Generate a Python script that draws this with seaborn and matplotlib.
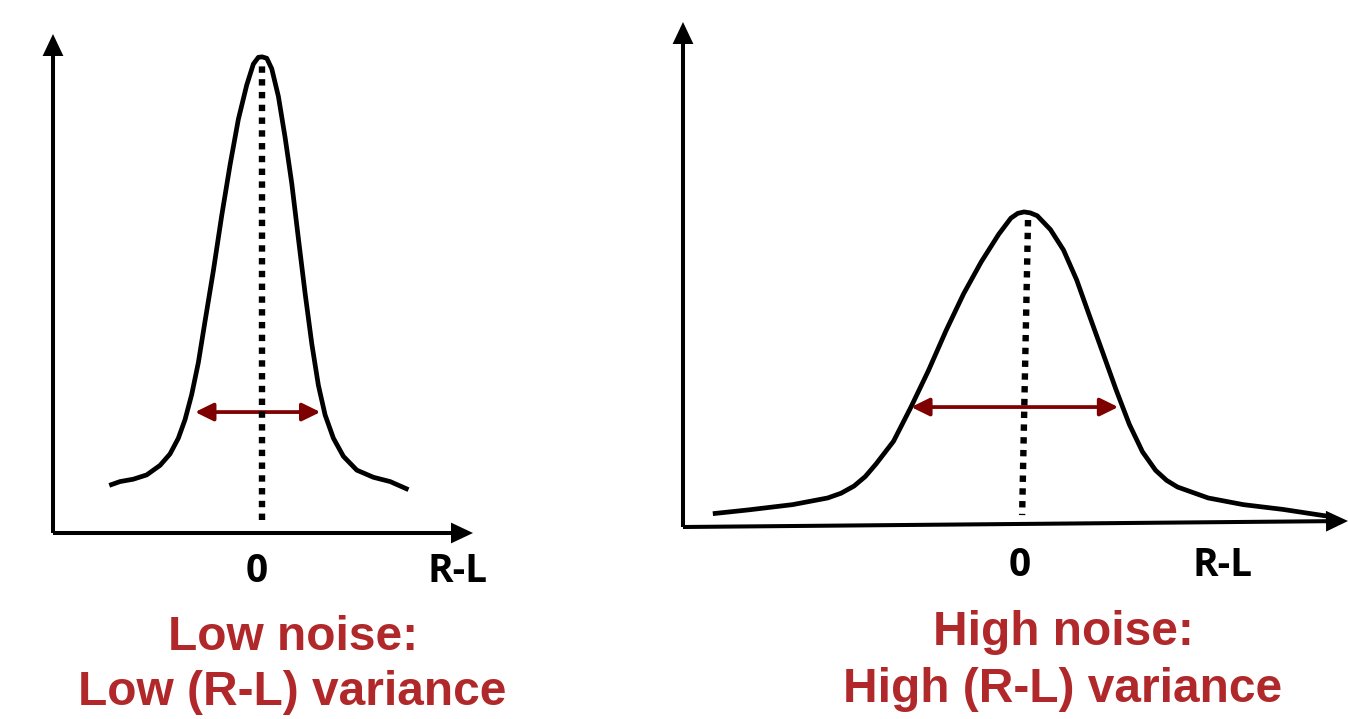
import matplotlib
matplotlib.use("Agg")
import matplotlib.pyplot as plt
import seaborn as sns
import pandas as pd

sns.set_theme(style="white")

# ---------------- data ----------------
# Low-noise panel: narrow distribution of R-L
low_x = [-2.463, -2.290, -2.076, -1.860, -1.645, -1.484, -1.350, -1.242, -1.134,
         -1.027, -0.919, -0.785, -0.650, -0.516, -0.382, -0.247, -0.140, -0.060,
         0.000, 0.076, 0.156, 0.263, 0.371, 0.479, 0.585, 0.694, 0.802, 0.908,
         1.016, 1.150, 1.311, 1.527, 1.795, 2.065, 2.360]
low_y = [0.100, 0.108, 0.113, 0.122, 0.142, 0.166, 0.199, 0.238, 0.291,
         0.358, 0.445, 0.551, 0.667, 0.773, 0.869, 0.941, 0.985, 0.999,
         1.000, 0.997, 0.975, 0.917, 0.831, 0.734, 0.619, 0.503, 0.397, 0.310,
         0.248, 0.199, 0.161, 0.132, 0.117, 0.108, 0.091]

# High-noise panel: wide distribution of R-L
high_x = [-5.019, -4.440, -3.732, -3.166, -2.950, -2.742, -2.560, -2.389, -2.105,
          -1.823, -1.540, -1.256, -0.974, -0.690, -0.408, -0.211, -0.100, 0.000,
          0.100, 0.213, 0.426, 0.637, 0.850, 1.061, 1.274, 1.486, 1.698, 1.911,
          2.123, 2.300, 2.476, 2.971, 3.537, 4.174, 4.882]
high_y = [0.028, 0.036, 0.047, 0.061, 0.071, 0.086, 0.106, 0.132, 0.180,
          0.252, 0.329, 0.413, 0.490, 0.557, 0.615, 0.649, 0.659, 0.662,
          0.660, 0.654, 0.625, 0.582, 0.519, 0.442, 0.365, 0.288, 0.216, 0.158,
          0.119, 0.098, 0.084, 0.061, 0.047, 0.037, 0.023]

# width arrows (R-L span at arrow height)
low_span = [-1.08, 0.94]
low_span_y = 0.254
high_span = [-1.82, 1.52]
high_span_y = 0.252

tick_labels = ["0", "R-L"]
low_tick_pos = [-0.08, 3.15]
high_tick_pos = [-0.065, 3.21]

titles_low = ["Low noise:", "Low (R-L) variance"]
titles_high = ["High noise:", "High (R-L) variance"]

# ---------------- figure ----------------
W, H = 1348, 719
fig = plt.figure(figsize=(W / 100, H / 100), dpi=100)
fig.patch.set_facecolor("white")

ARROW_RED = "#7F0000"
TITLE_RED = "#B0282A"


def make_panel(px_left, px_right, px_top, px_bottom, xlim, ylim):
    ax = fig.add_axes([px_left / W, (H - px_bottom) / H,
                       (px_right - px_left) / W, (px_bottom - px_top) / H])
    ax.set_xlim(*xlim)
    ax.set_ylim(*ylim)
    ax.axis("off")
    return ax


def axis_arrows(ax, x_end_frac=1.0, x_end_y=0.0):
    kw = dict(arrowstyle="-|>,head_length=0.55,head_width=0.26",
              lw=2.9, color="black", shrinkA=0, shrinkB=0,
              mutation_scale=20, joinstyle="miter", capstyle="butt")
    ax.annotate("", xy=(0, 1), xytext=(0, 0), xycoords="axes fraction",
                textcoords="axes fraction", arrowprops=kw,
                annotation_clip=False)
    ax.annotate("", xy=(x_end_frac, x_end_y), xytext=(0, 0),
                xycoords="axes fraction", textcoords="axes fraction",
                arrowprops=kw, annotation_clip=False)


def span_arrow(ax, span, y):
    ax.annotate("", xy=(span[1], y), xytext=(span[0], y),
                arrowprops=dict(arrowstyle="<|-|>,head_length=0.55,head_width=0.27",
                                lw=2.7, color=ARROW_RED, shrinkA=0, shrinkB=0,
                                mutation_scale=20), zorder=3)


def tick_texts(ax, positions, yoff):
    for lab, xp in zip(tick_labels, positions):
        ax.text(xp, yoff, lab, ha="center", va="baseline", fontsize=28,
                fontweight="bold", family=["Open Sans", "DejaVu Sans"],
                color="black", clip_on=False)


# ---- left panel ----
axL = make_panel(53, 473, 34, 533, (-3.37, 3.40), (0, 1.048))
axis_arrows(axL)
dfL = pd.DataFrame({"x": low_x, "y": low_y})
sns.lineplot(data=dfL, x="x", y="y", ax=axL, sort=False, color="black",
             lw=3.4, solid_joinstyle="round", solid_capstyle="butt", zorder=2)
span_arrow(axL, low_span, low_span_y)
axL.plot([0.0, 0.0], [0.027, 0.985], color="black", lw=4.6,
         linestyle=(0, (1, 1)), dash_capstyle="butt", zorder=4)
tick_texts(axL, low_tick_pos, -0.103)

# ---- right panel ----
axR = make_panel(683, 1348, 22, 527, (-5.5, 5.226), (0, 1.061))
axis_arrows(axR, x_end_frac=1.0, x_end_y=6 / 505)
dfH = pd.DataFrame({"x": high_x, "y": high_y})
sns.lineplot(data=dfH, x="x", y="y", ax=axR, sort=False, color="black",
             lw=3.4, solid_joinstyle="round", solid_capstyle="butt", zorder=2)
span_arrow(axR, high_span, high_span_y)
axR.plot([0.065, -0.03], [0.645, 0.025], color="black", lw=4.6,
         linestyle=(0, (1, 1)), dash_capstyle="butt", zorder=4)
tick_texts(axR, high_tick_pos, -0.103)

for ax in (axL, axR):
    if ax.get_legend() is not None:
        ax.get_legend().remove()

# ---- titles ----
title_font = ["Liberation Sans", "DejaVu Sans"]
for txt, xc, yb in [(titles_low[0], 293, 650), (titles_low[1], 292, 705),
                    (titles_high[0], 1063, 645), (titles_high[1], 1063, 702)]:
    fig.text(xc / W, (H - yb) / H, txt, ha="center", va="baseline",
             fontsize=34.5, fontweight="bold", family=title_font,
             color=TITLE_RED)

fig.savefig("out.png", dpi=100, facecolor="white")
